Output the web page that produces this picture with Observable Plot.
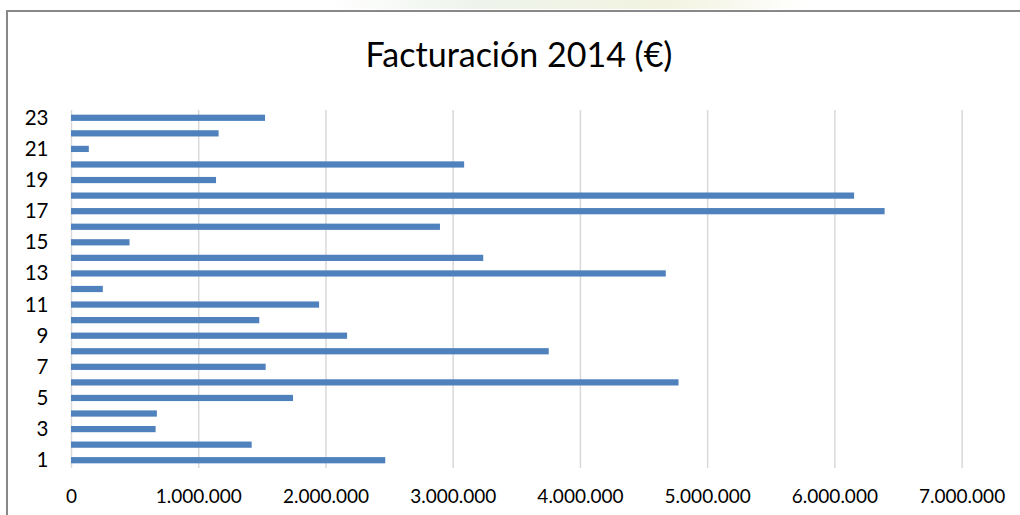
<!DOCTYPE html>
<html>
<head>
<meta charset="utf-8">
<script src="https://cdn.jsdelivr.net/npm/d3@7"></script>
<script src="https://cdn.jsdelivr.net/npm/@observablehq/plot@0.6"></script>
<style>
  html, body { margin: 0; padding: 0; background: #fff; overflow: hidden; }
  #wrap { position: relative; width: 1020px; height: 515px; overflow: hidden; font-family: Lato, "Open Sans", sans-serif; }
  #deco { position: absolute; left: 330px; top: 0; width: 480px; height: 9px;
          background: linear-gradient(to right, rgba(255,255,255,0), #eef4ec 30%, #f2f3e0 70%, rgba(255,255,255,0)); }
  #frame { position: absolute; left: 6px; top: 10px; width: 1014px; height: 505px;
           border-top: 2px solid #888; border-left: 2px solid #888; box-sizing: border-box; }
  #title { position: absolute; left: 0; top: 0; width: 1020px; height: 100px; box-sizing: border-box;
           padding-top: 34px; padding-left: 18px; text-align: center; font-size: 34px; line-height: 1.2; color: #000; }
  #chart { position: absolute; left: 0; top: 100px; width: 1020px; }
</style>
</head>
<body>
<div id="wrap">
  <div id="deco"></div>
  <div id="frame"></div>
  <div id="title">Facturación 2014 (€)</div>
  <div id="chart"></div>
</div>
<script>
const categories = ["1","2","3","4","5","6","7","8","9","10","11","12","13","14","15","16","17","18","19","20","21","22","23"];
const values = [2470000, 1420000, 665000, 675000, 1745000, 4775000, 1530000, 3755000, 2170000, 1480000, 1950000, 250000, 4675000, 3240000, 460000, 2900000, 6395000, 6155000, 1140000, 3090000, 140000, 1160000, 1525000];
const xTicks = [0, 1000000, 2000000, 3000000, 4000000, 5000000, 6000000, 7000000];
const yTickLabels = ["1","3","5","7","9","11","13","15","17","19","21","23"];

const data = categories.map((c, i) => ({cat: c, value: values[i]}));
const esFormat = d3.formatLocale({decimal: ",", thousands: ".", grouping: [3], currency: ["", "€"]}).format(",");

const chart = Plot.plot({
  width: 1020,
  height: 415,
  marginTop: 10,
  marginBottom: 47,
  marginLeft: 71,
  marginRight: 58.4,
  style: {fontFamily: "Lato, 'Open Sans', sans-serif", color: "#000", background: "transparent"},
  x: {domain: [0, 7000000]},
  y: {domain: categories.slice().reverse(), paddingInner: 0.6, paddingOuter: 0.3, round: false},
  marks: [
    Plot.gridX(xTicks, {stroke: "#d9d9d9", strokeOpacity: 1, strokeWidth: 1.5}),
    Plot.barX(data, {x: "value", y: "cat", fill: "#4f81bd"}),
    Plot.axisX(xTicks, {tickSize: 0, tickPadding: 21, fontSize: 19, tickFormat: esFormat, label: null, fill: "#000"}),
    Plot.axisY(yTickLabels, {tickSize: 0, tickPadding: 23, fontSize: 20.5, label: null, fill: "#000"})
  ]
});
document.getElementById("chart").appendChild(chart);
</script>
</body>
</html>
